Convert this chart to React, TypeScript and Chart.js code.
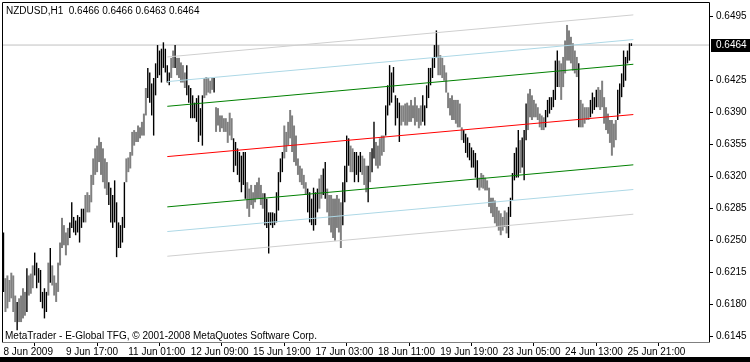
import React, { useEffect, useRef } from "react";
import { Chart, registerables } from "chart.js";

Chart.register(...registerables);

// ---------- data ----------
const titleText = "NZDUSD,H1  0.6466 0.6466 0.6463 0.6464";
const copyrightText = "MetaTrader - E-Global TFG, © 2001-2008 MetaQuotes Software Corp.";

const timeLabels = [
  "8 Jun 2009", "9 Jun 17:00", "11 Jun 01:00", "12 Jun 09:00", "15 Jun 19:00",
  "17 Jun 03:00", "18 Jun 11:00", "19 Jun 19:00", "23 Jun 05:00", "24 Jun 13:00", "25 Jun 21:00",
];
const barsPerTimeLabel = 32;

const priceTicks = [0.6495, 0.6425, 0.639, 0.6355, 0.632, 0.6285, 0.625, 0.6215, 0.618, 0.6145];
const currentPrice = 0.6464;

const highs = [
  0.6259,0.6209,0.6212,0.6207,0.6215,0.6212,0.6190,0.6183,0.6187,0.6190,
  0.6198,0.6194,0.6220,0.6212,0.6214,0.6223,0.6237,0.6226,0.6220,0.6218,
  0.6194,0.6198,0.6194,0.6226,0.6242,0.6223,0.6212,0.6204,0.6226,0.6248,
  0.6275,0.6267,0.6259,0.6264,0.6270,0.6292,0.6276,0.6272,0.6278,0.6276,
  0.6285,0.6285,0.6300,0.6303,0.6300,0.6322,0.6340,0.6351,0.6354,0.6363,
  0.6358,0.6351,0.6340,0.6336,0.6314,0.6308,0.6300,0.6316,0.6292,0.6270,
  0.6267,0.6276,0.6314,0.6340,0.6341,0.6347,0.6369,0.6371,0.6369,0.6376,
  0.6374,0.6380,0.6389,0.6417,0.6439,0.6434,0.6422,0.6428,0.6444,0.6464,
  0.6458,0.6460,0.6467,0.6460,0.6442,0.6434,0.6450,0.6458,0.6464,0.6450,
  0.6450,0.6445,0.6442,0.6434,0.6442,0.6420,0.6417,0.6409,0.6401,0.6406,
  0.6409,0.6395,0.6409,0.6428,0.6429,0.6428,0.6425,0.6428,0.6428,0.6396,
  0.6395,0.6387,0.6387,0.6384,0.6384,0.6380,0.6390,0.6384,0.6362,0.6358,
  0.6351,0.6347,0.6343,0.6347,0.6347,0.6314,0.6307,0.6311,0.6303,0.6311,
  0.6314,0.6319,0.6311,0.6302,0.6302,0.6296,0.6281,0.6281,0.6281,0.6280,
  0.6303,0.6325,0.6340,0.6347,0.6376,0.6369,0.6380,0.6393,0.6387,0.6376,
  0.6365,0.6340,0.6332,0.6329,0.6322,0.6314,0.6307,0.6303,0.6296,0.6308,
  0.6303,0.6307,0.6318,0.6322,0.6329,0.6336,0.6307,0.6300,0.6300,0.6296,
  0.6296,0.6300,0.6296,0.6292,0.6314,0.6332,0.6365,0.6362,0.6354,0.6351,
  0.6347,0.6347,0.6343,0.6347,0.6343,0.6340,0.6332,0.6332,0.6347,0.6351,
  0.6380,0.6358,0.6354,0.6362,0.6365,0.6365,0.6398,0.6420,0.6442,0.6434,
  0.6440,0.6409,0.6406,0.6401,0.6398,0.6398,0.6400,0.6401,0.6398,0.6404,
  0.6398,0.6407,0.6398,0.6395,0.6398,0.6409,0.6398,0.6420,0.6439,0.6439,
  0.6450,0.6464,0.6480,0.6464,0.6453,0.6450,0.6442,0.6434,0.6412,0.6406,
  0.6409,0.6404,0.6404,0.6404,0.6400,0.6374,0.6371,0.6367,0.6363,0.6357,
  0.6352,0.6349,0.6346,0.6338,0.6319,0.6324,0.6322,0.6319,0.6316,0.6308,
  0.6297,0.6297,0.6294,0.6287,0.6283,0.6280,0.6276,0.6283,0.6281,0.6287,
  0.6297,0.6324,0.6346,0.6352,0.6371,0.6360,0.6363,0.6371,0.6400,0.6411,
  0.6416,0.6409,0.6404,0.6400,0.6396,0.6389,0.6387,0.6385,0.6393,0.6404,
  0.6407,0.6407,0.6415,0.6447,0.6458,0.6447,0.6444,0.6451,0.6469,0.6486,
  0.6480,0.6473,0.6466,0.6458,0.6451,0.6444,0.6404,0.6400,0.6396,0.6396,
  0.6396,0.6404,0.6412,0.6407,0.6415,0.6418,0.6415,0.6425,0.6407,0.6396,
  0.6389,0.6382,0.6382,0.6378,0.6382,0.6415,0.6422,0.6433,0.6458,0.6451,
  0.6458,0.6466,0.6466,
];

const lows = [
  0.6194,0.6172,0.6176,0.6183,0.6187,0.6172,0.6161,0.6152,0.6161,0.6161,
  0.6165,0.6168,0.6172,0.6190,0.6192,0.6198,0.6212,0.6198,0.6204,0.6183,
  0.6176,0.6165,0.6172,0.6190,0.6204,0.6201,0.6190,0.6183,0.6194,0.6223,
  0.6242,0.6245,0.6234,0.6245,0.6253,0.6264,0.6259,0.6256,0.6259,0.6248,
  0.6264,0.6270,0.6270,0.6281,0.6281,0.6292,0.6311,0.6322,0.6325,0.6336,
  0.6322,0.6314,0.6307,0.6300,0.6289,0.6270,0.6264,0.6270,0.6232,0.6242,
  0.6242,0.6248,0.6264,0.6314,0.6325,0.6329,0.6343,0.6354,0.6358,0.6358,
  0.6362,0.6365,0.6365,0.6387,0.6406,0.6401,0.6387,0.6365,0.6409,0.6428,
  0.6431,0.6423,0.6439,0.6434,0.6423,0.6420,0.6428,0.6439,0.6439,0.6431,
  0.6428,0.6423,0.6423,0.6417,0.6409,0.6401,0.6384,0.6384,0.6384,0.6380,
  0.6358,0.6365,0.6354,0.6406,0.6409,0.6412,0.6411,0.6415,0.6412,0.6369,
  0.6376,0.6369,0.6373,0.6369,0.6369,0.6357,0.6365,0.6360,0.6325,0.6332,
  0.6322,0.6314,0.6303,0.6311,0.6296,0.6285,0.6276,0.6289,0.6285,0.6292,
  0.6296,0.6296,0.6289,0.6285,0.6267,0.6264,0.6236,0.6267,0.6264,0.6267,
  0.6270,0.6283,0.6314,0.6325,0.6340,0.6347,0.6354,0.6362,0.6347,0.6336,
  0.6332,0.6322,0.6314,0.6311,0.6307,0.6300,0.6281,0.6270,0.6267,0.6261,
  0.6267,0.6281,0.6285,0.6296,0.6300,0.6296,0.6281,0.6267,0.6259,0.6253,
  0.6250,0.6264,0.6259,0.6242,0.6267,0.6292,0.6314,0.6332,0.6325,0.6325,
  0.6314,0.6322,0.6314,0.6325,0.6322,0.6311,0.6303,0.6292,0.6314,0.6325,
  0.6340,0.6332,0.6329,0.6332,0.6343,0.6347,0.6365,0.6387,0.6398,0.6401,
  0.6412,0.6376,0.6384,0.6358,0.6376,0.6380,0.6376,0.6376,0.6380,0.6380,
  0.6384,0.6376,0.6380,0.6373,0.6376,0.6380,0.6376,0.6395,0.6406,0.6420,
  0.6428,0.6439,0.6450,0.6431,0.6431,0.6428,0.6425,0.6412,0.6395,0.6387,
  0.6382,0.6382,0.6378,0.6374,0.6374,0.6360,0.6357,0.6346,0.6341,0.6338,
  0.6330,0.6330,0.6319,0.6308,0.6305,0.6308,0.6307,0.6305,0.6305,0.6287,
  0.6280,0.6276,0.6269,0.6265,0.6261,0.6256,0.6261,0.6265,0.6258,0.6253,
  0.6276,0.6294,0.6316,0.6319,0.6319,0.6324,0.6330,0.6316,0.6360,0.6371,
  0.6385,0.6382,0.6385,0.6385,0.6382,0.6374,0.6371,0.6371,0.6374,0.6385,
  0.6389,0.6393,0.6396,0.6404,0.6418,0.6418,0.6404,0.6418,0.6433,0.6447,
  0.6447,0.6444,0.6436,0.6433,0.6429,0.6374,0.6374,0.6374,0.6378,0.6382,
  0.6382,0.6385,0.6389,0.6393,0.6396,0.6396,0.6393,0.6396,0.6378,0.6371,
  0.6367,0.6357,0.6343,0.6352,0.6360,0.6382,0.6389,0.6407,0.6418,0.6425,
  0.6444,0.6447,0.6463,
];

// bar direction per bar: u = up bar (black), d = down bar (gray)
const barMoves = [
  "u", "dddddd", "u", "dddd", "u", "ddd", "uuuuuuu", "d", "u", "ddddddddd",
  "uuuuuuuu", "dddddddddddd", "uuuuuuuuu", "ddddddddddd", "uuuuuuuuuuuu", "dd", "u", "ddddd",
  "uuuuuuuuu", "ddddd", "u", "ddddddddd", "uuuuuuu", "ddddddddd", "uuuuuuuuuu", "dddddddddddd",
  "uuuuuu", "dd", "uu", "dddddddd", "uuuu", "dd", "uuuu", "ddd", "u", "d", "uu", "ddddd",
  "uuuuuuuu", "ddddddddddd", "uuuuuuuu", "ddddddddddddd", "uuuuuuuu", "ddddddddddddddd",
  "uuuuuu", "d", "uuu", "ddddddddd", "uuuuuuu", "dddddddddd", "u", "ddddd", "uuuu",
  "dddddddddd", "uuuuuuuu",
].join("");

// regression channel: start / end bar, centre line prices, deviations
const channelBars = [84, 323];
const channelMid = [0.6342, 0.6388];
const channelDeviations = [0.0055, 0.0082, 0.0109];

// ---------- view ----------
const X_MIN = -0.256;
const X_MAX = 361.8;
const Y_MIN = 0.61392;
const Y_MAX = 0.651;
const FONT = "'Liberation Sans', Arial, sans-serif";

const devColors = ["#008000", "#ADD8E6", "#CFCFCF"];

const mtPlugin = {
  id: "mtFrame",
  afterDatasetsDraw(chart: any) {
    const { ctx, chartArea: a } = chart;
    ctx.save();
    ctx.strokeStyle = "#000";
    ctx.lineWidth = 1;
    ctx.beginPath();
    ctx.moveTo(a.left - 0.5, a.bottom + 0.5);
    ctx.lineTo(a.left - 0.5, a.top - 0.5);
    ctx.lineTo(a.right + 0.5, a.top - 0.5);
    ctx.lineTo(a.right + 0.5, a.bottom + 0.5);
    ctx.stroke();
    ctx.strokeStyle = "#808080";
    ctx.beginPath();
    ctx.moveTo(a.left - 0.5, a.bottom + 0.5);
    ctx.lineTo(a.right + 0.5, a.bottom + 0.5);
    ctx.stroke();
    ctx.restore();
  },
  afterDraw(chart: any) {
    const { ctx, chartArea: a, scales } = chart;
    const y = Math.round(scales.y.getPixelForValue(currentPrice));
    ctx.save();
    ctx.fillStyle = "#000";
    ctx.fillRect(a.right + 2, y - 6, 750 - a.right - 2, 13);
    ctx.fillStyle = "#fff";
    ctx.font = `10px ${FONT}`;
    ctx.textBaseline = "middle";
    ctx.textAlign = "left";
    ctx.fillText(currentPrice.toFixed(4), a.right + 7, y + 0.5);
    ctx.restore();
  },
};

export default function App() {
  const canvasRef = useRef<HTMLCanvasElement | null>(null);

  useEffect(() => {
    if (!canvasRef.current) return;
    const upBars: any[] = [];
    const downBars: any[] = [];
    highs.forEach((h, i) => {
      const item = { x: i, y: [lows[i], h] };
      if (barMoves[i] === "u") upBars.push(item);
      else downBars.push(item);
    });

    const channelSets: any[] = [];
    const levels = [0, ...channelDeviations];
    levels.forEach((dev, k) => {
      const signs = dev === 0 ? [0] : [1, -1];
      signs.forEach((s) => {
        channelSets.push({
          type: "line",
          data: [
            { x: channelBars[0], y: channelMid[0] + s * dev },
            { x: channelBars[1], y: channelMid[1] + s * dev },
          ],
          borderColor: dev === 0 ? "#FF0000" : devColors[k - 1],
          borderWidth: 1,
          pointRadius: 0,
          fill: false,
          order: dev === 0 ? 0 : k,
        });
      });
    });

    const chart = new Chart(canvasRef.current, {
      type: "bar",
      data: {
        datasets: [
          {
            type: "line",
            data: [
              { x: X_MIN, y: currentPrice },
              { x: X_MAX, y: currentPrice },
            ],
            borderColor: "#C0C0C0",
            borderWidth: 1,
            pointRadius: 0,
            order: 10,
          } as any,
          {
            type: "bar",
            data: downBars,
            backgroundColor: "#808080",
            barThickness: 2,
            borderWidth: 0,
            inflateAmount: 0,
            grouped: false,
            order: 6,
          } as any,
          {
            type: "bar",
            data: upBars,
            backgroundColor: "#000000",
            barThickness: 1.4,
            borderWidth: 0,
            inflateAmount: 0,
            grouped: false,
            order: 5,
          } as any,
          ...channelSets,
        ],
      },
      options: {
        responsive: false,
        animation: false,
        events: [],
        layout: { padding: { left: 3, top: 3, right: 0, bottom: 0 } },
        plugins: { legend: { display: false }, tooltip: { enabled: false } },
        scales: {
          x: {
            type: "linear",
            min: X_MIN,
            max: X_MAX,
            offset: false,
            border: { display: false },
            grid: { drawOnChartArea: false, drawTicks: true, tickLength: 4, color: "#000" },
            afterBuildTicks: (scale: any) => {
              scale.ticks = timeLabels.map((_, k) => ({ value: k * barsPerTimeLabel }));
            },
            afterFit: (scale: any) => {
              scale.height = 20;
              scale.paddingLeft = 0;
              scale.paddingRight = 0;
            },
            ticks: {
              autoSkip: false,
              maxRotation: 0,
              minRotation: 0,
              align: "start",
              padding: 0,
              color: "#000",
              font: { family: FONT, size: 10 },
              callback: (_v: any, idx: number) => timeLabels[idx],
            },
          },
          y: {
            type: "linear",
            position: "right",
            min: Y_MIN,
            max: Y_MAX,
            border: { display: false },
            grid: { drawOnChartArea: false, drawTicks: true, tickLength: 4, color: "#000" },
            afterBuildTicks: (scale: any) => {
              scale.ticks = priceTicks.map((v) => ({ value: v }));
            },
            afterFit: (scale: any) => {
              scale.width = 41;
              scale.paddingTop = 0;
              scale.paddingBottom = 0;
            },
            ticks: {
              padding: 3,
              color: "#000",
              font: { family: FONT, size: 10 },
              callback: (v: any) => Number(v).toFixed(4),
            },
          },
        },
      } as any,
      plugins: [mtPlugin],
    });
    return () => chart.destroy();
  }, []);

  const textStyle: React.CSSProperties = {
    position: "absolute",
    fontFamily: FONT,
    fontSize: 10,
    lineHeight: "12px",
    color: "#000",
    whiteSpace: "pre",
  };

  return (
    <div style={{ position: "fixed", left: 0, top: 0, width: 750, height: 362, background: "#fff", overflow: "hidden" }}>
      <canvas ref={canvasRef} width={750} height={362} style={{ display: "block", width: 750, height: 362 }} />
      <div style={{ ...textStyle, left: 6, top: 5 }}>{titleText}</div>
      <div style={{ ...textStyle, left: 5, top: 330 }}>{copyrightText}</div>
      <div style={{ position: "absolute", left: 0, top: 357, width: 750, height: 5, background: "#000" }} />
    </div>
  );
}
